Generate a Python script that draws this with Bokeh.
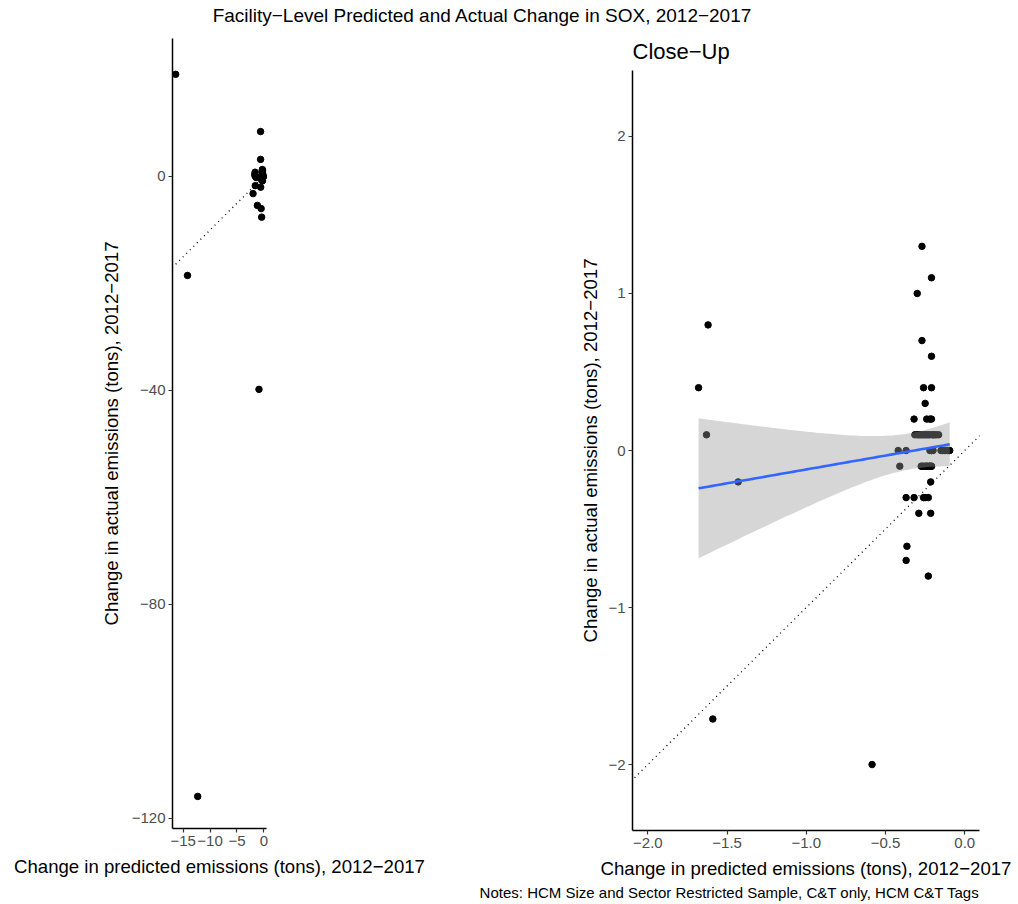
import numpy as np
from bokeh.plotting import figure
from bokeh.layouts import column, row
from bokeh.models import Range1d, FixedTicker, Slope, Title, Label
from bokeh.embed import file_html
from bokeh.resources import INLINE

# ---------------- data ----------------
# (several close-up points overlap exactly; overlapping duplicates are listed too)
pred_change = [-16.4, -14.2, -12.3, -0.9, -0.6, -0.6, -2.0, -1.2, -0.5, -0.4,
               -1.68, -1.62, -1.63, -1.43, -1.59, -0.585,
               -0.27, -0.21, -0.30, -0.27, -0.21, -0.26, -0.21, -0.25,
               -0.32, -0.24, -0.21, -0.22,
               -0.315, -0.29, -0.26, -0.23, -0.205, -0.165,
               -0.30, -0.27, -0.25, -0.22, -0.19, -0.18, -0.28, -0.24, -0.20,
               -0.42, -0.37, -0.21, -0.14, -0.095,
               -0.20, -0.22, -0.15, -0.12, -0.11, -0.10, -0.21, -0.13,
               -0.41, -0.275, -0.24, -0.21,
               -0.26, -0.25, -0.23, -0.22, -0.22, -0.27, -0.24, -0.21,
               -0.215,
               -0.37, -0.32, -0.26, -0.23, -0.25,
               -0.29, -0.215,
               -0.365, -0.37, -0.23]
actual_change = [19.1, -18.5, -115.9, -39.8, 8.4, 3.2, -3.2, -5.4, -6.0, -7.6,
                 0.40, 0.80, 0.10, -0.20, -1.71, -2.0,
                 1.3, 1.1, 1.0, 0.7, 0.6, 0.4, 0.4, 0.3,
                 0.2, 0.2, 0.2, 0.2,
                 0.1, 0.1, 0.1, 0.1, 0.1, 0.1,
                 0.1, 0.1, 0.1, 0.1, 0.1, 0.1, 0.1, 0.1, 0.1,
                 0.0, 0.0, 0.0, 0.0, 0.0,
                 0.0, 0.0, 0.0, 0.0, 0.0, 0.0, 0.0, 0.0,
                 -0.1, -0.1, -0.1, -0.1,
                 -0.1, -0.1, -0.1, -0.1, -0.1, -0.1, -0.1, -0.1,
                 -0.2,
                 -0.3, -0.3, -0.3, -0.3, -0.3,
                 -0.4, -0.4,
                 -0.61, -0.70, -0.80]

left_xticks = [-15, -10, -5, 0]
left_xlabels = ["\u221215", "\u221210", "\u22125", "0"]
left_yticks = [-120, -80, -40, 0]
left_ylabels = ["\u2212120", "\u221280", "\u221240", "0"]
right_xticks = [-2.0, -1.5, -1.0, -0.5, 0.0]
right_xlabels = ["\u22122.0", "\u22121.5", "\u22121.0", "\u22120.5", "0.0"]
right_yticks = [-2, -1, 0, 1, 2]
right_ylabels = ["\u22122", "\u22121", "0", "1", "2"]

main_title = "Facility\u2212Level Predicted and Actual Change in SOX, 2012\u22122017"
sub_title = "Close\u2212Up"
x_title = "Change in predicted emissions (tons), 2012\u22122017"
y_title = "Change in actual emissions (tons), 2012\u22122017"
notes = "Notes: HCM Size and Sector Restricted Sample, C&T only, HCM C&T Tags"

# close-up window
cx_lo, cx_hi = -2.097, 0.093
cy_lo, cy_hi = -2.42, 2.42

FONT = "Liberation Sans"

xa = np.array(pred_change)
ya = np.array(actual_change)
mask = (xa >= cx_lo) & (xa <= cx_hi) & (ya >= cy_lo) & (ya <= cy_hi)
xc, yc = xa[mask], ya[mask]

# linear fit with 95% confidence band (as geom_smooth(method="lm"))
n = len(xc)
b1, b0 = np.polyfit(xc, yc, 1)
resid = yc - (b0 + b1 * xc)
s2 = np.sum(resid ** 2) / (n - 2)
xbar = xc.mean()
sxx = np.sum((xc - xbar) ** 2)
xs = np.linspace(xc.min(), xc.max(), 80)
yhat = b0 + b1 * xs
se = np.sqrt(s2 * (1.0 / n + (xs - xbar) ** 2 / sxx))
tq = 1.995
lower = yhat - tq * se
upper = yhat + tq * se


def style(p):
    p.outline_line_color = None
    p.xgrid.visible = False
    p.ygrid.visible = False
    for ax in p.axis:
        ax.axis_line_color = "black"
        ax.axis_line_width = 1.5
        ax.major_tick_line_color = "#333333"
        ax.major_tick_line_width = 1.2
        ax.major_tick_out = 4
        ax.major_tick_in = 0
        ax.minor_tick_line_color = None
        ax.major_label_text_font = FONT
        ax.major_label_text_font_size = "15px"
        ax.major_label_text_color = "#4D4D4D"
        ax.major_label_standoff = 3
        ax.axis_label_text_font = FONT
        ax.axis_label_text_font_size = "18.6px"
        ax.axis_label_text_font_style = "normal"
        ax.axis_label_text_color = "black"
        ax.axis_label_standoff = 7


# ---------------- title strip ----------------
tfig = figure(width=1018, height=28, x_range=Range1d(0, 1018), y_range=Range1d(0, 28),
              toolbar_location=None, output_backend="svg",
              x_axis_location=None, y_axis_location=None, min_border=0)
tfig.outline_line_color = None
tfig.xgrid.visible = False
tfig.ygrid.visible = False
tfig.add_layout(Label(x=482, y=13, text=main_title, text_align="center",
                      text_baseline="middle", text_font=FONT, text_font_size="19px",
                      text_color="black"))

# ---------------- left panel (full data) ----------------
p1 = figure(width=440, height=876, x_range=Range1d(-16.99, 0.5), y_range=Range1d(-121.9, 25.8),
            toolbar_location=None, output_backend="svg",
            min_border_left=172, min_border_right=174, min_border_top=10, min_border_bottom=76)
p1.frame_align = False
style(p1)
p1.yaxis.axis_label_standoff = 7
p1.xaxis.ticker = FixedTicker(ticks=left_xticks)
p1.xaxis.major_label_overrides = dict(zip(left_xticks, left_xlabels))
p1.yaxis.ticker = FixedTicker(ticks=left_yticks)
p1.yaxis.major_label_overrides = dict(zip(left_yticks, left_ylabels))
p1.xaxis.axis_label = x_title
p1.yaxis.axis_label = y_title
p1.add_layout(Slope(gradient=1, y_intercept=0, line_color="black", line_dash="1 4", line_width=1.3))
p1.scatter(pred_change, actual_change, size=6.5, color="black")

# ---------------- right panel (close-up) ----------------
p2 = figure(width=578, height=876, x_range=Range1d(cx_lo, cx_hi), y_range=Range1d(cy_lo, cy_hi),
            toolbar_location=None, output_backend="svg", title=sub_title,
            min_border_left=192, min_border_right=39, min_border_top=42, min_border_bottom=74)
p2.frame_align = False
style(p2)
p2.yaxis.axis_label_standoff = 4
p2.title.text_font = FONT
p2.title.text_font_size = "22px"
p2.title.text_font_style = "normal"
p2.title.text_color = "black"
p2.title.align = "left"
p2.title.standoff = 14
p2.xaxis.ticker = FixedTicker(ticks=right_xticks)
p2.xaxis.major_label_overrides = dict(zip(right_xticks, right_xlabels))
p2.yaxis.ticker = FixedTicker(ticks=right_yticks)
p2.yaxis.major_label_overrides = dict(zip(right_yticks, right_ylabels))
p2.xaxis.axis_label = x_title
p2.yaxis.axis_label = y_title
p2.add_layout(Slope(gradient=1, y_intercept=0, line_color="black", line_dash="1 4", line_width=1.3))
p2.scatter(xc, yc, size=6.5, color="black")
p2.varea(x=xs, y1=lower, y2=upper, fill_color="#999999", fill_alpha=0.4)
p2.line(xs, yhat, line_color="#3366FF", line_width=2.6)
p2.add_layout(Title(text=notes, align="right", text_font=FONT, text_font_size="15px",
                    text_font_style="normal", text_color="black", standoff=0), "below")

layout = column(tfig, row(p1, p2))
open("out.html", "w").write(file_html(layout, INLINE))
